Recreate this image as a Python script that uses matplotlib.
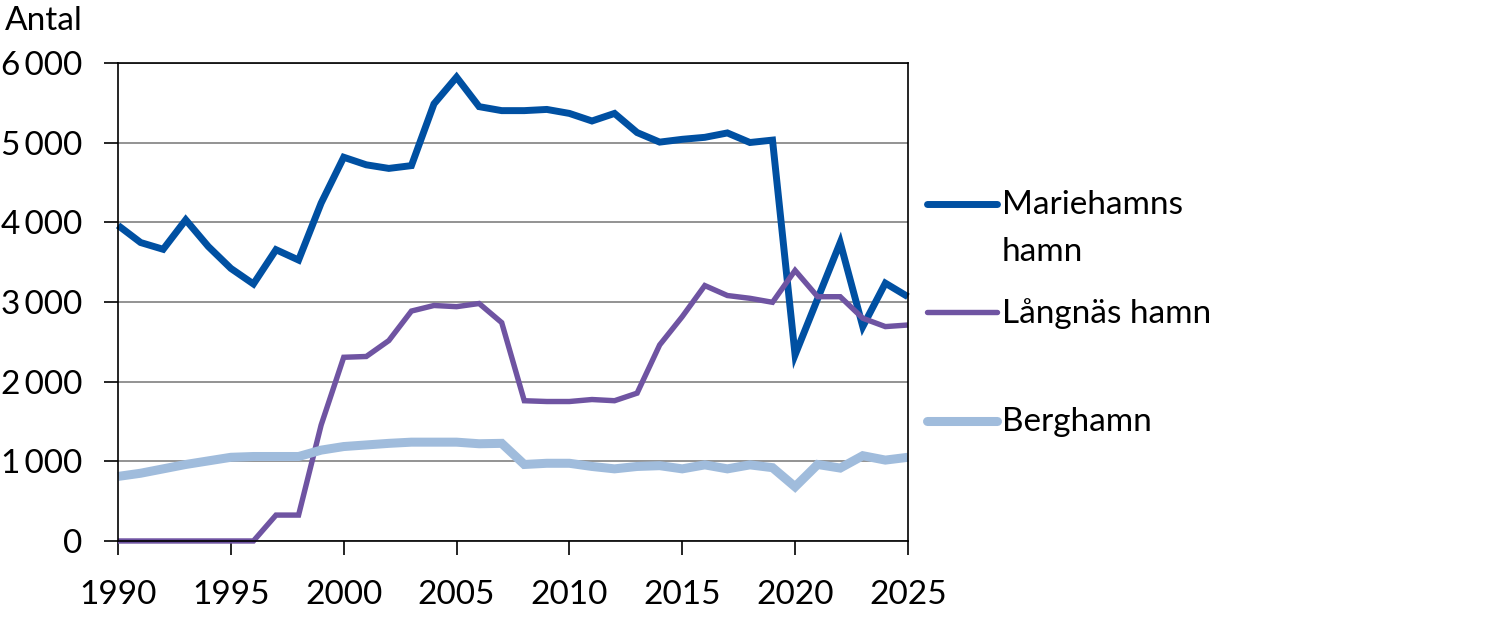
import matplotlib.pyplot as plt
from matplotlib.lines import Line2D
import matplotlib.ticker as mticker

plt.rcParams["font.family"] = ["Lato", "DejaVu Sans"]

YEARS = list(range(1990, 2026))
MARIEHAMN = [3960, 3745, 3660, 4030, 3695, 3420, 3225, 3655, 3525, 4240,
             4815, 4720, 4675, 4710, 5485, 5820, 5450, 5400, 5400, 5415,
             5365, 5270, 5365, 5125, 5005, 5040, 5065, 5120, 5000, 5030,
             2335, 3040, 3745, 2690, 3235, 3065]
LANGNAS = [0, 0, 0, 0, 0, 0, 0, 325, 325, 1455,
           2305, 2315, 2515, 2885, 2955, 2940, 2980, 2740, 1760, 1750,
           1750, 1775, 1760, 1855, 2460, 2815, 3205, 3080, 3045, 2995,
           3395, 3065, 3065, 2795, 2690, 2710]
BERGHAMN = [810, 850, 905, 960, 1005, 1050, 1060, 1060, 1060, 1140,
            1185, 1205, 1225, 1240, 1240, 1240, 1220, 1225, 960, 975,
            975, 935, 905, 935, 945, 905, 955, 905, 955, 920,
            680, 960, 915, 1070, 1015, 1050]

SERIES = [
    ("Mariehamns\nhamn", MARIEHAMN, "#0050a2", 5.0),
    ("Långnäs hamn", LANGNAS, "#6f54a2", 3.9),
    ("Berghamn", BERGHAMN, "#a0bcdc", 6.5),
]

fig = plt.figure(figsize=(14.96, 6.3), dpi=100)
ax = fig.add_axes([0.0789, 0.1413, 0.528, 0.759])

for label, vals, color, lw in SERIES:
    ax.plot(YEARS, vals, color=color, linewidth=lw, solid_capstyle="butt",
            solid_joinstyle="miter", clip_on=False)

ax.set_xlim(1990, 2025)
ax.set_ylim(0, 6000)
ax.set_xticks(range(1990, 2026, 5))
ax.set_yticks(range(0, 6001, 1000))
# thin space as thousands separator, like the original
ax.yaxis.set_major_formatter(
    mticker.FuncFormatter(lambda v, p: f"{int(v):,}".replace(",", "\u2009")))
ax.tick_params(axis="both", direction="out", length=10, width=1.2, labelsize=24)
ax.tick_params(axis="y", pad=16)
ax.tick_params(axis="x", pad=18)
ax.grid(axis="y", color="#808080", linewidth=1.2)
ax.set_axisbelow(True)
for sp in ax.spines.values():
    sp.set_color("black")
    sp.set_linewidth(1.2)

fig.text(0.0033, 0.952, "Antal", fontsize=24, ha="left", va="baseline")

# legend drawn by hand so the two-line entry lines up like the original
leg_y = [1 - 204 / 630, 1 - 312 / 630, 1 - 421 / 630]
for (label, vals, color, lw), y in zip(SERIES, leg_y):
    fig.add_artist(Line2D([927 / 1496, 997 / 1496], [y, y], color=color,
                          linewidth=lw, solid_capstyle="round",
                          transform=fig.transFigure))
    fig.text(1002 / 1496, y + 14 / 630, label, fontsize=24, ha="left",
             va="top", linespacing=1.7)

fig.savefig("out.png", dpi=100)
